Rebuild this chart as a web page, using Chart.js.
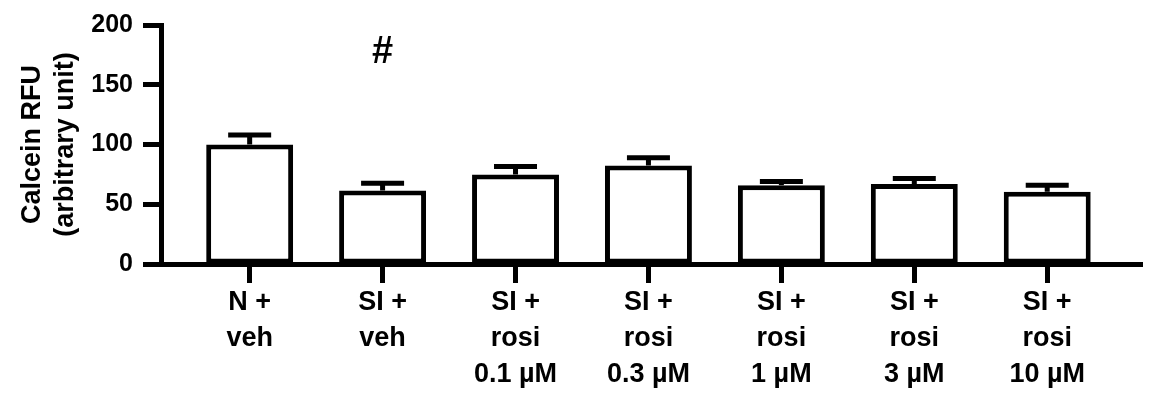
<!DOCTYPE html>
<html lang="en">
<head>
    <meta charset="UTF-8">
    <title>Calcein RFU</title>
    <script src="https://cdn.jsdelivr.net/npm/chart.js"></script>
    <style>
        body { margin: 0; background: #fff; }
        #wrap { width: 1151px; height: 397px; position: relative; }
    </style>
</head>
<body>
    <div id="wrap"><canvas id="grafico"></canvas></div>

    <script>
        // categorias e valores
        const categories = [
            ['N +', 'veh'],
            ['SI +', 'veh'],
            ['SI +', 'rosi', '0.1 µM'],
            ['SI +', 'rosi', '0.3 µM'],
            ['SI +', 'rosi', '1 µM'],
            ['SI +', 'rosi', '3 µM'],
            ['SI +', 'rosi', '10 µM']
        ];
        const means = [100, 61.5, 75, 82.5, 66, 67, 60.5];
        const sems = [8, 6, 6.5, 6.5, 3, 4.5, 5.5];
        const yTicks = [0, 50, 100, 150, 200];
        const marks = ['', '#', '', '', '', '', ''];

        const fonte = 'Arial, "Liberation Sans", Helvetica, sans-serif';

        // barras de erro (só para cima) e o "#"
        const errorBars = {
            id: 'errorBars',
            afterDatasetsDraw(chart) {
                const c = chart.ctx;
                const y = chart.scales.y;
                const meta = chart.getDatasetMeta(0);
                c.save();
                c.strokeStyle = '#000';
                c.lineWidth = 5;
                meta.data.forEach((bar, i) => {
                    const top = y.getPixelForValue(means[i] + sems[i]);
                    c.beginPath();
                    c.moveTo(bar.x, bar.y);
                    c.lineTo(bar.x, top);
                    c.moveTo(bar.x - 21.5, top);
                    c.lineTo(bar.x + 21.5, top);
                    c.stroke();
                    if (marks[i]) {
                        c.fillStyle = '#000';
                        c.font = 'bold 38px ' + fonte;
                        c.textAlign = 'center';
                        c.textBaseline = 'middle';
                        c.fillText(marks[i], bar.x, y.getPixelForValue(177));
                    }
                });
                c.restore();
            }
        };

        let ctx = document.getElementById('grafico').getContext('2d');

        let grafico = new Chart(ctx, {
            type: 'bar',
            data: {
                datasets: [{
                    data: means.map((v, i) => ({ x: i, y: v })),
                    backgroundColor: '#fff',
                    borderColor: '#000',
                    borderWidth: 5,
                    borderSkipped: false,
                    barPercentage: 0.654,
                    categoryPercentage: 1
                }]
            },
            options: {
                responsive: true,
                maintainAspectRatio: false,
                animation: false,
                layout: { padding: { top: 21, right: 9, left: 0, bottom: 0 } },
                plugins: { legend: { display: false }, tooltip: { enabled: false } },
                scales: {
                    x: {
                        type: 'linear',
                        offset: false,
                        min: -0.667,
                        max: 6.713,
                        afterBuildTicks: s => { s.ticks = categories.map((_, i) => ({ value: i })); },
                        afterFit: s => { s.height = 133; },
                        grid: { offset: false, drawOnChartArea: false, drawTicks: true, tickLength: 19, tickWidth: 5, tickColor: '#000' },
                        border: { display: true, color: '#000', width: 5, z: 1 },
                        ticks: {
                            color: '#000',
                            padding: 2,
                            maxRotation: 0,
                            autoSkip: false,
                            font: { family: fonte, size: 27, weight: 'bold', lineHeight: 1.32 },
                            callback: v => categories[v]
                        }
                    },
                    y: {
                        min: 0,
                        max: 200,
                        afterBuildTicks: s => { s.ticks = yTicks.map(v => ({ value: v })); },
                        afterFit: s => { s.width = 161; },
                        grid: { drawOnChartArea: false, drawTicks: true, tickLength: 18, tickWidth: 5, tickColor: '#000' },
                        border: { display: true, color: '#000', width: 5, z: 1 },
                        ticks: {
                            color: '#000',
                            padding: 10,
                            font: { family: fonte, size: 25, weight: 'bold' }
                        },
                        title: {
                            display: true,
                            text: ['Calcein RFU', '(arbitrary unit)'],
                            color: '#000',
                            padding: { top: 16, bottom: 0 },
                            font: { family: fonte, size: 27, weight: 'bold', lineHeight: 1.22 }
                        }
                    }
                }
            },
            plugins: [errorBars]
        });
    </script>
</body>
</html>
